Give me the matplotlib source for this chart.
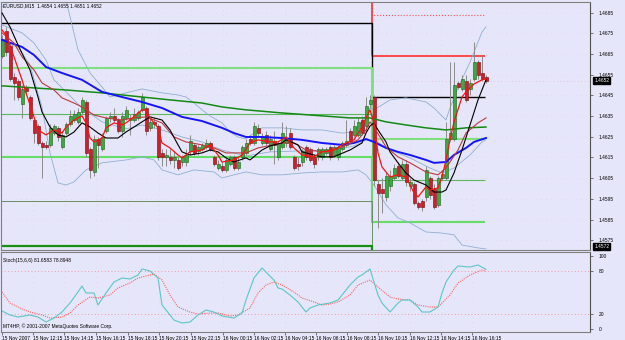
import matplotlib.pyplot as plt
from matplotlib.transforms import blended_transform_factory

# EURUSD M15 candles, 15 Nov 10:15 .. 16 Nov 16:30 (index = bar number)
opens = [
    1.4664, 1.4676, 1.4669, 1.4654, 1.4652, 1.4641, 1.4649, 1.4644, 1.4633, 1.4630,
    1.4622, 1.4621, 1.4621, 1.4627, 1.4629, 1.4620, 1.4627, 1.4631, 1.4633, 1.4632,
    1.4637, 1.4642, 1.4619, 1.4608, 1.4624, 1.4619, 1.4628, 1.4634, 1.4635, 1.4633,
    1.4628, 1.4634, 1.4633, 1.4633, 1.4634, 1.4638, 1.4639, 1.4629, 1.4632, 1.4630,
    1.4617, 1.4615, 1.4615, 1.4614, 1.4614, 1.4613, 1.4613, 1.4618, 1.4621, 1.4618,
    1.4619, 1.4620, 1.4622, 1.4615, 1.4610, 1.4611, 1.4609, 1.4612, 1.4615, 1.4610,
    1.4615, 1.4617, 1.4624, 1.4622, 1.4629, 1.4622, 1.4626, 1.4619, 1.4623, 1.4615,
    1.4620, 1.4622, 1.4627, 1.4615, 1.4612, 1.4613, 1.4620, 1.4619, 1.4615, 1.4615,
    1.4615, 1.4617, 1.4620, 1.4616, 1.4615, 1.4619, 1.4621, 1.4628, 1.4626, 1.4626,
    1.4633, 1.4630, 1.4641, 1.4644, 1.4602, 1.4600, 1.4596, 1.4601, 1.4605, 1.4611,
    1.4605, 1.4612, 1.4601, 1.4602, 1.4593, 1.4594, 1.4596, 1.4605, 1.4600, 1.4592,
    1.4605, 1.4605, 1.4624, 1.4624, 1.4651, 1.4648, 1.4652, 1.4648, 1.4653, 1.4661,
    1.4656, 1.4654,
]
highs = [
    1.4674, 1.4678, 1.4671, 1.4656, 1.4653, 1.4650, 1.4650, 1.4645, 1.4634, 1.4631,
    1.4623, 1.4623, 1.4631, 1.4631, 1.4630, 1.4628, 1.4632, 1.4638, 1.4638, 1.4639,
    1.4644, 1.4643, 1.4620, 1.4626, 1.4625, 1.4627, 1.4635, 1.4637, 1.4639, 1.4634,
    1.4637, 1.4640, 1.4636, 1.4639, 1.4638, 1.4646, 1.4640, 1.4634, 1.4634, 1.4631,
    1.4619, 1.4619, 1.4619, 1.4618, 1.4615, 1.4616, 1.4619, 1.4626, 1.4622, 1.4621,
    1.4622, 1.4624, 1.4623, 1.4616, 1.4614, 1.4613, 1.4615, 1.4616, 1.4616, 1.4615,
    1.4621, 1.4624, 1.4626, 1.4632, 1.4631, 1.4627, 1.4628, 1.4626, 1.4628, 1.4623,
    1.4632, 1.4630, 1.4629, 1.4616, 1.4615, 1.4619, 1.4621, 1.4620, 1.4616, 1.4620,
    1.4620, 1.4620, 1.4621, 1.4621, 1.4621, 1.4623, 1.4633, 1.4629, 1.4633, 1.4634,
    1.4635, 1.4644, 1.4645, 1.4645, 1.4604, 1.4605, 1.4608, 1.4609, 1.4612, 1.4613,
    1.4614, 1.4614, 1.4605, 1.4603, 1.4594, 1.4595, 1.4611, 1.4606, 1.4602, 1.4606,
    1.4609, 1.4632, 1.4661, 1.4661, 1.4652, 1.4655, 1.4655, 1.4653, 1.4671, 1.4662,
    1.4664, 1.4655,
]
lows = [
    1.4663, 1.4664, 1.4652, 1.4643, 1.4643, 1.4634, 1.4645, 1.4633, 1.4622, 1.4621,
    1.4605, 1.4619, 1.4620, 1.4626, 1.4623, 1.4619, 1.4626, 1.4630, 1.4632, 1.4631,
    1.4636, 1.4615, 1.4605, 1.4606, 1.4610, 1.4618, 1.4627, 1.4632, 1.4632, 1.4627,
    1.4625, 1.4633, 1.4626, 1.4632, 1.4633, 1.4637, 1.4626, 1.4628, 1.4629, 1.4614,
    1.4611, 1.4611, 1.4612, 1.4610, 1.4609, 1.4611, 1.4611, 1.4616, 1.4616, 1.4616,
    1.4618, 1.4619, 1.4618, 1.4611, 1.4609, 1.4608, 1.4608, 1.4611, 1.4609, 1.4609,
    1.4614, 1.4616, 1.4621, 1.4621, 1.4625, 1.4621, 1.4621, 1.4618, 1.4612, 1.4614,
    1.4619, 1.4620, 1.4619, 1.4609, 1.4609, 1.4611, 1.4614, 1.4613, 1.4610, 1.4614,
    1.4614, 1.4616, 1.4614, 1.4615, 1.4614, 1.4618, 1.4620, 1.4622, 1.4625, 1.4625,
    1.4626, 1.4628, 1.4639, 1.4601, 1.4581, 1.4588, 1.4594, 1.4599, 1.4604, 1.4605,
    1.4604, 1.4601, 1.4599, 1.4592, 1.4590, 1.4589, 1.4594, 1.4595, 1.4590, 1.4591,
    1.4604, 1.4604, 1.4623, 1.4623, 1.4648, 1.4647, 1.4642, 1.4645, 1.4652, 1.4653,
    1.4652, 1.4651,
]
closes = [
    1.4672, 1.4666, 1.4653, 1.4651, 1.4644, 1.4648, 1.4647, 1.4634, 1.4627, 1.4622,
    1.4620, 1.4620, 1.4629, 1.4630, 1.4625, 1.4626, 1.4631, 1.4635, 1.4636, 1.4637,
    1.4643, 1.4617, 1.4609, 1.4624, 1.4621, 1.4625, 1.4634, 1.4635, 1.4633, 1.4628,
    1.4635, 1.4638, 1.4634, 1.4636, 1.4637, 1.4644, 1.4628, 1.4632, 1.4631, 1.4615,
    1.4615, 1.4616, 1.4614, 1.4615, 1.4610, 1.4615, 1.4616, 1.4623, 1.4617, 1.4620,
    1.4621, 1.4622, 1.4619, 1.4612, 1.4612, 1.4609, 1.4614, 1.4615, 1.4610, 1.4613,
    1.4620, 1.4622, 1.4622, 1.4630, 1.4627, 1.4625, 1.4622, 1.4624, 1.4621, 1.4622,
    1.4627, 1.4624, 1.4620, 1.4610, 1.4611, 1.4618, 1.4615, 1.4614, 1.4612, 1.4619,
    1.4619, 1.4619, 1.4615, 1.4620, 1.4620, 1.4622, 1.4623, 1.4623, 1.4630, 1.4632,
    1.4627, 1.4640, 1.4643, 1.4604, 1.4598, 1.4598, 1.4606, 1.4606, 1.4610, 1.4606,
    1.4612, 1.4603, 1.4603, 1.4593, 1.4591, 1.4591, 1.4609, 1.4597, 1.4591, 1.4605,
    1.4607, 1.4624, 1.4627, 1.4650, 1.4649, 1.4653, 1.4643, 1.4651, 1.4661, 1.4655,
    1.4653, 1.4652,
]

# moving averages / bands: (bar, price)
ma_black = [(0, 1.46848), (2, 1.46781), (4, 1.46694), (7, 1.46573), (9, 1.46442), (10, 1.46370),
            (12, 1.46297), (14, 1.46259), (16, 1.46249), (18, 1.46273), (20, 1.46317), (22, 1.46297),
            (24, 1.46268), (26, 1.46244), (29, 1.46244), (31, 1.46273), (33, 1.46297), (35, 1.46322),
            (37, 1.46346), (40, 1.46331), (42, 1.46283), (44, 1.46211), (45, 1.46177), (47, 1.46162),
            (50, 1.46172), (52, 1.46186), (54, 1.46177), (56, 1.46148), (58, 1.46128), (61, 1.46148),
            (62, 1.46138), (65, 1.46186), (67, 1.46206), (70, 1.46220), (71, 1.46235), (74, 1.46211),
            (75, 1.46177), (78, 1.46162), (80, 1.46153), (83, 1.46153), (84, 1.46162), (87, 1.46186),
            (90, 1.46220), (91, 1.46268), (92, 1.46302), (93, 1.46317), (94, 1.46283), (96, 1.46225),
            (97, 1.46177), (99, 1.46124), (101, 1.46075), (103, 1.46041), (106, 1.46017), (108, 1.45983),
            (110, 1.45983), (111, 1.45993), (113, 1.46075), (115, 1.46186), (117, 1.46307),
            (119, 1.46428), (121, 1.46525)]
ma_red = [(0, 1.46766), (1, 1.46742), (3, 1.46636), (5, 1.46525), (6, 1.46462), (8, 1.46346),
          (9, 1.46283), (11, 1.46259), (13, 1.46283), (15, 1.46268), (16, 1.46297), (18, 1.46331),
          (20, 1.46351), (21, 1.46317), (22, 1.46244), (23, 1.46225), (25, 1.46244), (26, 1.46293),
          (28, 1.46317), (30, 1.46307), (31, 1.46317), (32, 1.46331), (35, 1.46380), (36, 1.46380),
          (37, 1.46341), (39, 1.46293), (40, 1.46220), (42, 1.46196), (44, 1.46162), (45, 1.46148),
          (47, 1.46177), (50, 1.46186), (52, 1.46211), (54, 1.46162), (55, 1.46128), (58, 1.46138),
          (60, 1.46162), (62, 1.46220), (64, 1.46235), (67, 1.46225), (69, 1.46225), (71, 1.46249),
          (73, 1.46196), (75, 1.46162), (78, 1.46153), (80, 1.46177), (83, 1.46186), (85, 1.46211),
          (88, 1.46235), (90, 1.46297), (91, 1.46341), (92, 1.46380), (93, 1.46317), (94, 1.46172),
          (95, 1.46104), (97, 1.46056), (99, 1.46066), (101, 1.46056), (103, 1.45979), (104, 1.45959),
          (106, 1.46008), (107, 1.45993), (109, 1.46003), (110, 1.46056), (111, 1.46138),
          (112, 1.46235), (113, 1.46322), (115, 1.46442), (116, 1.46467), (118, 1.46505),
          (120, 1.46525), (121, 1.46529)]
ma_brown = [(0, 1.46752), (3, 1.46703), (5, 1.46636), (8, 1.46573), (10, 1.46510), (13, 1.46476),
            (15, 1.46438), (18, 1.46413), (20, 1.46394), (23, 1.46355), (26, 1.46341), (30, 1.46331),
            (33, 1.46341), (36, 1.46346), (40, 1.46317), (43, 1.46249), (46, 1.46225), (50, 1.46211),
            (53, 1.46196), (56, 1.46172), (61, 1.46172), (64, 1.46196), (70, 1.46220), (73, 1.46220),
            (76, 1.46186), (81, 1.46177), (85, 1.46201), (89, 1.46235), (91, 1.46283), (92, 1.46322),
            (93, 1.46297), (96, 1.46201), (99, 1.46153), (102, 1.46124), (106, 1.46080), (109, 1.46066),
            (111, 1.46099), (114, 1.46186), (116, 1.46268), (119, 1.46317), (121, 1.46341)]
ma_blue = [(0, 1.46718), (5, 1.46684), (8, 1.46645), (11, 1.46587), (15, 1.46558), (20, 1.46525),
           (25, 1.46467), (30, 1.46442), (35, 1.46418), (40, 1.46389), (45, 1.46346), (50, 1.46326),
           (55, 1.46293), (58, 1.46268), (61, 1.46249), (65, 1.46249), (70, 1.46244), (75, 1.46235),
           (80, 1.46220), (85, 1.46211), (88, 1.46220), (91, 1.46239), (93, 1.46225), (96, 1.46196),
           (99, 1.46177), (102, 1.46162), (106, 1.46138), (108, 1.46124), (111, 1.46128),
           (113, 1.46162), (116, 1.46196), (118, 1.46225), (121, 1.46244)]
ma_green = [(0, 1.46496), (8, 1.46486), (16, 1.46476), (25, 1.46462), (30, 1.46452), (35, 1.46442),
            (42, 1.46428), (50, 1.46413), (55, 1.46394), (61, 1.46380), (70, 1.46365), (80, 1.46351),
            (87, 1.46341), (92, 1.46341), (96, 1.46322), (101, 1.46307), (106, 1.46293),
            (111, 1.46283), (116, 1.46293), (121, 1.46297)]
bb_upper = [(0, 1.46877), (5, 1.46959), (10, 1.46983), (16, 1.46911), (19, 1.46670), (22, 1.46558),
            (25, 1.46491), (27, 1.46442), (31, 1.46462), (35, 1.46481), (40, 1.46462), (44, 1.46452),
            (46, 1.46442), (48, 1.46413), (50, 1.46380), (52, 1.46351), (55, 1.46317), (57, 1.46273),
            (59, 1.46249), (61, 1.46239), (63, 1.46268), (65, 1.46293), (70, 1.46293), (75, 1.46283),
            (80, 1.46283), (85, 1.46268), (88, 1.46273), (90, 1.46322), (92, 1.46389), (93, 1.46380),
            (97, 1.46428), (101, 1.46438), (106, 1.46418), (108, 1.46389), (111, 1.46331),
            (112, 1.46389), (114, 1.46486), (117, 1.46611), (120, 1.46756), (121, 1.46781)]
bb_middle = [(0, 1.46790), (5, 1.46752), (8, 1.46703), (11, 1.46621), (13, 1.46525), (16, 1.46467),
             (20, 1.46389), (25, 1.46322), (31, 1.46288), (35, 1.46307), (40, 1.46283), (45, 1.46249),
             (50, 1.46225), (55, 1.46186), (61, 1.46157), (67, 1.46177), (75, 1.46182), (82, 1.46182),
             (88, 1.46206), (91, 1.46235), (93, 1.46235), (97, 1.46186), (102, 1.46148),
             (107, 1.46099), (110, 1.46075), (113, 1.46099), (117, 1.46162), (120, 1.46225),
             (121, 1.46235)]
bb_lower = [(0, 1.46703), (4, 1.46684), (7, 1.46597), (10, 1.46394), (12, 1.46172), (14, 1.46027),
            (16, 1.46017), (18, 1.46032), (21, 1.46090), (25, 1.46124), (31, 1.46138), (35, 1.46153),
            (38, 1.46138), (40, 1.46090), (44, 1.46066), (48, 1.46090), (53, 1.46080), (55, 1.46051),
            (58, 1.46066), (61, 1.46080), (65, 1.46066), (70, 1.46066), (75, 1.46075), (80, 1.46080),
            (85, 1.46080), (89, 1.46090), (91, 1.46066), (93, 1.46017), (96, 1.45921), (99, 1.45858),
            (102, 1.45834), (106, 1.45790), (110, 1.45785), (113, 1.45776), (115, 1.45727),
            (119, 1.45713), (121, 1.45708)]

# daily levels: value on 15 Nov, value on 16 Nov
day_break = 92.5
levels_end = 120.75
level_values = [(1.4724, 1.4684), (1.4702, 1.4664), (1.4680, 1.4644), (1.4658, 1.4624),
                (1.4636, 1.4604), (1.4615, 1.4584), (1.4594, 1.4564), (1.4572, 1.4544)]
level_colors = ['#FF5050', '#FF3030', '#000000', '#80E080', '#5DB85D', '#66DD66', '#6A8F6A', '#159015']
level_widths = [0.8, 1.2, 1.0, 1.5, 0.8, 1.5, 0.7, 1.6]
level_styles = [':', '-', '-', '-', '-', '-', '-', '-']

# stochastic (bar, value)
stoch_main = [(0, 24.7), (2, 19.2), (4, 16.4), (7, 19.2), (9, 16.4), (11, 9.6), (13, 15.0), (15, 23.3),
              (17, 35.6), (19, 50.7), (20, 58.9), (21, 49.3), (23, 49.3), (24, 32.9), (26, 49.3),
              (28, 64.4), (30, 69.9), (32, 68.5), (34, 74.0), (35, 82.2), (37, 79.5), (39, 69.9),
              (40, 32.9), (43, 12.3), (45, 8.2), (47, 9.6), (49, 19.2), (51, 26.0), (53, 23.3),
              (55, 17.8), (58, 15.0), (60, 21.9), (61, 39.7), (63, 69.9), (65, 83.6), (66, 78.0),
              (68, 67.0), (69, 56.2), (70, 54.8), (72, 46.6), (74, 37.0), (76, 23.3), (77, 28.8),
              (79, 32.9), (82, 35.6), (84, 39.7), (87, 60.3), (89, 71.2), (90, 74.0), (92, 82.2),
              (94, 46.6), (95, 35.6), (97, 23.3), (99, 35.6), (100, 39.7), (102, 39.7), (104, 30.1),
              (105, 23.3), (107, 23.3), (109, 30.1), (110, 49.3), (111, 64.4), (113, 80.8),
              (114, 86.3), (117, 84.9), (119, 87.7), (121, 81.7)]
stoch_signal = [(0, 50.7), (2, 35.6), (5, 27.4), (7, 23.3), (10, 19.2), (12, 15.0), (15, 16.4),
                (17, 21.9), (19, 32.9), (22, 43.8), (24, 42.5), (27, 46.6), (29, 56.2), (32, 63.0),
                (34, 69.9), (38, 75.3), (40, 67.1), (42, 46.6), (44, 30.1), (47, 23.3), (49, 20.5),
                (52, 21.9), (54, 21.9), (57, 17.8), (59, 19.2), (62, 28.8), (64, 49.3), (66, 60.3),
                (68, 64.4), (70, 60.3), (73, 50.7), (75, 42.5), (78, 37.0), (80, 32.9), (82, 34.2),
                (84, 37.0), (87, 46.6), (89, 60.3), (92, 67.1), (94, 57.5), (97, 43.8), (99, 41.1),
                (102, 39.7), (104, 32.9), (107, 30.1), (109, 30.1), (112, 46.6), (114, 63.0),
                (117, 74.0), (120, 80.8), (121, 78.9)]

price_ticks = [1.4575, 1.4585, 1.4595, 1.4605, 1.4615, 1.4625, 1.4635, 1.4645, 1.4655, 1.4665,
               1.4675, 1.4685]
stoch_ticks = [0, 20, 80, 100]
time_pos = [0, 7.75, 15.5, 23.5, 31.5, 39.25, 47.25, 55.25, 63, 70.75, 78.5, 86.25, 94, 102,
            109.75, 117.5]
time_labels = ['15 Nov 2007', '15 Nov 12:15', '15 Nov 14:15', '15 Nov 16:15', '15 Nov 18:15',
               '15 Nov 20:15', '15 Nov 22:15', '16 Nov 00:15', '16 Nov 02:15', '16 Nov 04:15',
               '16 Nov 06:15', '16 Nov 08:15', '16 Nov 10:15', '16 Nov 12:15', '16 Nov 14:15',
               '16 Nov 16:15']

bg = '#E6E6FA'
frame = '#7F7F7F'
fs = 3.5
plt.rcParams['font.family'] = ['Liberation Sans', 'DejaVu Sans']

fig = plt.figure(figsize=(6.25, 3.4), dpi=100, facecolor=bg)
ax = fig.add_axes([1/625, 1 - 250/340, 589/625, 248/340], facecolor=bg)
ax2 = fig.add_axes([1/625, 1 - 332/340, 589/625, 80/340], facecolor=bg)


def line(a, pairs, **kw):
    xs = [p[0] for p in pairs]
    ys = [p[1] for p in pairs]
    a.plot(xs, ys, **kw)


# levels
for (lv, rv), col, lw, ls in zip(level_values, level_colors, level_widths, level_styles):
    ax.plot([-0.25, day_break, day_break, levels_end], [lv, lv, rv, rv],
            color=col, lw=lw, ls=ls, zorder=2, solid_capstyle='butt')

# bollinger bands
for band in (bb_upper, bb_middle, bb_lower):
    line(ax, band, color='#8FAFD0', lw=0.6, zorder=2.5)

# candles
idx = list(range(len(closes)))
ax.vlines(idx, lows, highs, color='#8C8C8C', lw=0.7, zorder=3)
bottoms = [min(o, c) for o, c in zip(opens, closes)]
heights = [max(abs(c - o), 0.00003) for o, c in zip(opens, closes)]
face = ['#3DAA3D' if c >= o else '#D01E2A' for o, c in zip(opens, closes)]
edge = ['#1B5E1B' if c >= o else '#6E0A12' for o, c in zip(opens, closes)]
ax.bar(idx, heights, bottom=bottoms, width=0.75, color=face, edgecolor=edge, linewidth=0.4, zorder=4)

# moving averages
line(ax, ma_green, color='#138A13', lw=1.1, zorder=5)
line(ax, ma_blue, color='#1414FF', lw=1.4, zorder=5)
line(ax, ma_brown, color='#B83A3A', lw=0.8, zorder=5)
line(ax, ma_black, color='#000000', lw=0.8, zorder=6)
line(ax, ma_red, color='#FF1010', lw=0.9, zorder=6)

ax.axhline(closes[-1], color='#F0A0B8', ls=(0, (1, 4)), lw=0.5, zorder=1)

ax.set_xlim(-0.25, 147.0)
ax.set_ylim(1.45703, 1.46901)
ax.yaxis.tick_right()
ax.set_yticks(price_ticks)
ax.set_yticklabels(['%.4f' % p for p in price_ticks])
ax.set_xticks(time_pos)
ax.tick_params(axis='x', length=0, labelbottom=False)
ax.tick_params(axis='y', direction='out', length=2, width=0.5, color='#404040', labelsize=fs, pad=4)
ax.grid(True, color='#F0B4D2', ls=(0, (1, 8)), lw=0.4, zorder=0)

trans = blended_transform_factory(ax.transAxes, ax.transData)
for val in (closes[-1], level_values[7][0]):
    ax.text(1.007, val, '%.4f' % val, transform=trans, fontsize=fs, color='white', va='center',
            ha='left', bbox=dict(boxstyle='square,pad=0.2', fc='black', ec='black'), clip_on=False)
ax.text(0.003, 0.993, 'EURUSD,M15  %.4f %.4f %.4f %.4f' % (opens[-1], highs[-1], lows[-1], closes[-1]),
        transform=ax.transAxes, fontsize=fs, va='top', ha='left')

# stochastic panel
ax2.axhline(80, color='#F08080', ls=(0, (1, 3)), lw=0.6)
ax2.axhline(20, color='#F08080', ls=(0, (1, 3)), lw=0.6)
line(ax2, stoch_signal, color='#FF6060', lw=0.8, ls=(0, (1, 1)))
line(ax2, stoch_main, color='#5CC6C6', lw=0.8)
ax2.set_xlim(-0.25, 147.0)
ax2.set_ylim(-4.1, 105.5)
ax2.yaxis.tick_right()
ax2.set_yticks(stoch_ticks)
ax2.set_yticklabels([str(t) for t in stoch_ticks])
ax2.set_xticks(time_pos)
ax2.set_xticklabels(time_labels, ha='left')
ax2.tick_params(axis='x', direction='out', length=2, width=0.5, color='#404040', labelsize=fs, pad=1)
ax2.tick_params(axis='y', direction='out', length=2, width=0.5, color='#404040', labelsize=fs, pad=4)
ax2.grid(True, axis='x', color='#F0B4D2', ls=(0, (1, 8)), lw=0.4)
ax2.text(0.003, 0.93, 'Stoch(15,6,6) 81.6583 78.8948', transform=ax2.transAxes, fontsize=fs,
         va='top', ha='left')
ax2.text(0.003, 0.07, 'MT4HP, \u00a9 2001-2007 MetaQuotes Software Corp.', transform=ax2.transAxes,
         fontsize=fs, va='center', ha='left')

for a in (ax, ax2):
    for s in a.spines.values():
        s.set_color(frame)
        s.set_linewidth(0.8)
    a.spines['right'].set_color('#505050')

fig.savefig('out.png', dpi=100, facecolor=bg)
